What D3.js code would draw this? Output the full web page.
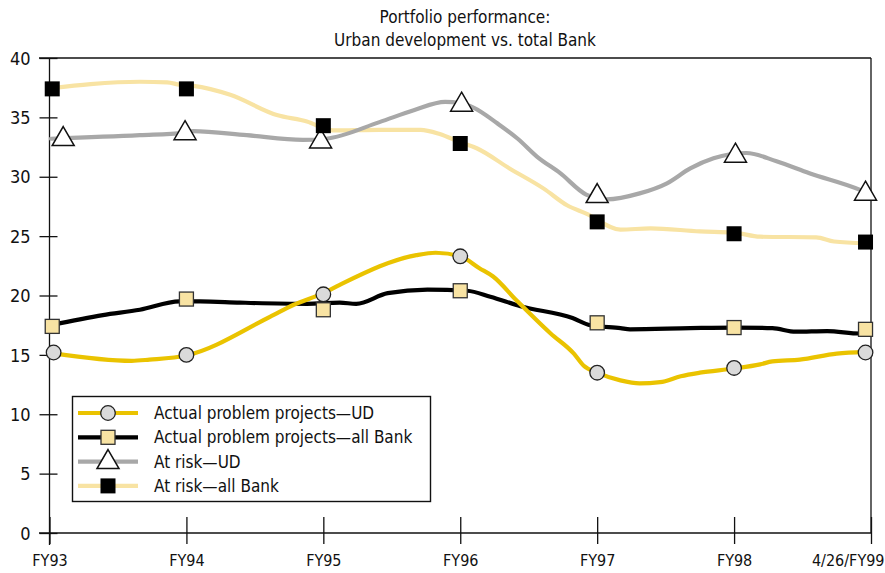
<!DOCTYPE html>
<html>
<head>
<meta charset="utf-8">
<script src="https://cdn.jsdelivr.net/npm/d3@7"></script>
<style>
  html, body { margin: 0; padding: 0; background: #fff; }
  svg { display: block; }
  text { font-family: "DejaVu Sans Condensed", "Liberation Sans Narrow", sans-serif; fill: #111; }
</style>
</head>
<body>
<svg id="chart" width="885" height="573"></svg>
<script>
// Period labels along the x axis (index 0..6)
const periods = ["FY93", "FY94", "FY95", "FY96", "FY97", "FY98", "4/26/FY99"];
const yTicks = [0, 5, 10, 15, 20, 25, 30, 35, 40];

// Marker readings at each period (percent)
const markProblemUD   = [15.2, 15.0, 20.1, 23.3, 13.5, 13.9, 15.2];
const markProblemBank = [17.4, 19.7, 18.8, 20.4, 17.7, 17.3, 17.15];
const markRiskUD      = [33.3, 33.8, 33.1, 36.2, 28.5, 31.9, 28.7];
const markRiskBank    = [37.4, 37.4, 34.3, 32.8, 26.2, 25.2, 24.5];
// Period position of each marker (first/last sit just inside the frame)
const markAtCircle   = [0.03, 1, 2, 3, 4, 5, 5.96];
const markAtSquare   = [0.02, 1, 2, 3, 4, 5, 5.96];
const markAtTriangle = [0.10, 0.99, 1.98, 3.01, 4.0, 5.01, 5.96];

// Continuous trend series: [period position, percent]
const lineProblemUD = [[0.03,15.13],[0.60,14.5],[0.73,14.6],[1.0,14.95],[1.61,18.2],[1.78,19.2],[2.0,20.2],
  [2.12,20.9],[2.68,23.4],[2.82,23.6],[3.0,23.3],[3.14,22.3],[3.24,21.6],[3.41,19.6],[3.66,16.8],
  [3.83,15.1],[3.90,14.1],[4.0,13.5],[4.17,12.85],[4.31,12.6],[4.46,12.7],[4.61,13.2],[4.75,13.5],
  [5.0,13.85],[5.19,14.2],[5.28,14.45],[5.48,14.6],[5.75,15.1],[5.96,15.25]];
const lineProblemBank = [[0.01,17.5],[0.39,18.35],[0.66,18.8],[0.95,19.5],[1.10,19.5],[1.39,19.4],[1.88,19.3],
  [2.12,19.4],[2.24,19.3],[2.47,20.2],[2.76,20.5],[3.05,20.4],[3.22,19.9],[3.44,19.1],[3.82,18.1],
  [3.95,17.5],[4.17,17.25],[4.24,17.15],[4.68,17.25],[5.0,17.3],[5.28,17.25],[5.45,16.95],[5.68,17.0],
  [5.92,16.8],[5.96,16.8]];
const lineRiskUD = [[0.01,33.2],[0.66,33.5],[0.98,33.7],[1.05,33.85],[1.44,33.5],[1.85,33.1],[2.02,33.2],
  [2.41,34.6],[2.66,35.6],[2.89,36.3],[3.0,36.2],[3.10,35.8],[3.27,34.5],[3.42,33.2],[3.56,31.7],
  [3.73,30.3],[3.92,28.5],[4.07,28.1],[4.31,28.6],[4.51,29.45],[4.68,30.7],[4.85,31.55],[5.09,32.0],
  [5.31,31.3],[5.55,30.3],[5.92,28.9],[5.96,28.7]];
const lineRiskBank = [[0.01,37.45],[0.30,37.8],[0.66,38.0],[0.86,37.95],[0.95,37.75],[1.05,37.65],[1.32,36.9],
  [1.66,35.2],[1.88,34.65],[2.07,33.9],[2.41,33.95],[2.71,33.95],[2.85,33.6],[3.0,32.9],[3.12,32.4],
  [3.36,30.7],[3.61,29.0],[3.78,27.6],[3.92,26.9],[4.17,25.55],[4.39,25.65],[4.75,25.4],[5.0,25.3],
  [5.19,24.95],[5.6,24.9],[5.73,24.55],[5.96,24.4]];

const legendLabels = ["Actual problem projects\u2014UD", "Actual problem projects\u2014all Bank",
  "At risk\u2014UD", "At risk\u2014all Bank"];

const svg = d3.select("#chart");
const x = d3.scaleLinear().domain([0, 6]).range([49.5, 871]);
const y = d3.scaleLinear().domain([0, 40]).range([533, 58]);

// Title
svg.append("text").attr("x", 465).attr("y", 23).attr("text-anchor", "middle")
  .style("font-size", "17px").text("Portfolio performance:");
svg.append("text").attr("x", 465).attr("y", 46).attr("text-anchor", "middle")
  .style("font-size", "17px").text("Urban development vs. total Bank");

// Frame: top and right edges
svg.append("line").attr("x1", 39).attr("x2", x(6)).attr("y1", y(40)).attr("y2", y(40))
  .attr("stroke", "#111").attr("stroke-width", 1.3);
svg.append("line").attr("x1", x(6)).attr("x2", x(6)).attr("y1", y(40)).attr("y2", y(0))
  .attr("stroke", "#111").attr("stroke-width", 1.3);

// Y axis with ticks crossing the axis line
const yAxis = svg.append("g").attr("transform", `translate(${x(0)},0)`)
  .call(d3.axisLeft(y).tickValues(yTicks).tickSize(10).tickPadding(9).tickSizeOuter(0));
yAxis.select(".domain").remove();
yAxis.selectAll(".tick line").attr("x2", 8).attr("x1", -10).attr("stroke", "#111").attr("stroke-width", 1.3);
yAxis.selectAll(".tick text").style("font-size", "18px").attr("x", -19).attr("dy", "0.34em")
  .style("font-family", "\"DejaVu Sans Condensed\", sans-serif");
svg.append("line").attr("x1", x(0)).attr("x2", x(0)).attr("y1", y(40)).attr("y2", 545)
  .attr("stroke", "#111").attr("stroke-width", 1.3);

// X axis
const xAxis = svg.append("g").attr("transform", `translate(0,${y(0)})`)
  .call(d3.axisBottom(x).tickValues(d3.range(periods.length)).tickFormat(i => periods[i]).tickSizeOuter(0));
xAxis.select(".domain").remove();
xAxis.selectAll(".tick line").attr("y1", -16).attr("y2", 11).attr("stroke", "#111").attr("stroke-width", 1.3);
xAxis.selectAll(".tick text").attr("y", 22).attr("dy", "0.71em").style("font-size", "16px")
  .style("font-family", "\"DejaVu Sans Condensed\", sans-serif");
xAxis.selectAll(".tick").filter(i => i === periods.length - 1).select("text")
  .attr("text-anchor", "end").attr("dx", 13);
svg.append("line").attr("x1", 39).attr("x2", x(6)).attr("y1", y(0)).attr("y2", y(0))
  .attr("stroke", "#111").attr("stroke-width", 1.3);

// Series styling
const series = [
  { line: lineRiskBank, marks: markRiskBank, at: markAtSquare, color: "#F8E3A3", symbol: "blacksq" },
  { line: lineRiskUD, marks: markRiskUD, at: markAtTriangle, color: "#A8A8A8", symbol: "triangle" },
  { line: lineProblemBank, marks: markProblemBank, at: markAtSquare, color: "#000000", symbol: "tansq" },
  { line: lineProblemUD, marks: markProblemUD, at: markAtCircle, color: "#EAC300", symbol: "circle" }
];

const lineGen = d3.line().x(d => x(d[0])).y(d => y(d[1])).curve(d3.curveMonotoneX);

series.forEach(s => {
  svg.append("path").datum(s.line).attr("d", lineGen).attr("fill", "none")
    .attr("stroke", s.color).attr("stroke-width", 4.2).attr("stroke-linejoin", "round").attr("stroke-linecap", "round");
});

function drawSymbol(g, kind, cx, cy) {
  if (kind === "circle") {
    g.append("circle").attr("cx", cx).attr("cy", cy).attr("r", 7.3)
      .attr("fill", "#DADADA").attr("stroke", "#222").attr("stroke-width", 1.3);
  } else if (kind === "tansq") {
    g.append("rect").attr("x", cx - 7).attr("y", cy - 7).attr("width", 14).attr("height", 14)
      .attr("fill", "#F8E3A3").attr("stroke", "#333").attr("stroke-width", 1.3);
  } else if (kind === "blacksq") {
    g.append("rect").attr("x", cx - 7.5).attr("y", cy - 7.5).attr("width", 15).attr("height", 15)
      .attr("fill", "#000");
  } else if (kind === "triangle") {
    g.append("path").attr("d", `M${cx},${cy - 11}L${cx + 11},${cy + 8}L${cx - 11},${cy + 8}Z`)
      .attr("fill", "#fff").attr("stroke", "#111").attr("stroke-width", 1.5).attr("stroke-linejoin", "miter");
  }
}

// Markers: triangles first, then squares and circles on top
const markOrder = [series[1], series[3], series[2], series[0]];
markOrder.forEach(s => {
  const g = svg.append("g");
  s.marks.forEach((v, i) => drawSymbol(g, s.symbol, x(s.at[i]), y(v)));
});

// Legend
const legend = svg.append("g");
legend.append("rect").attr("x", 72.5).attr("y", 396.5).attr("width", 358).attr("height", 105)
  .attr("fill", "#fff").attr("stroke", "#111").attr("stroke-width", 1.4);
const legendItems = [series[3], series[2], series[1], series[0]];
legendItems.forEach((s, i) => {
  const cy = 413 + i * 24.3;
  legend.append("line").attr("x1", 78).attr("x2", 138).attr("y1", cy).attr("y2", cy)
    .attr("stroke", s.color).attr("stroke-width", 4.2);
  drawSymbol(legend, s.symbol, 108, s.symbol === "triangle" ? cy - 1 : cy);
  legend.append("text").attr("x", 154).attr("y", cy).attr("dy", "0.35em")
    .style("font-size", "17px").text(legendLabels[i]);
});
</script>
</body>
</html>
